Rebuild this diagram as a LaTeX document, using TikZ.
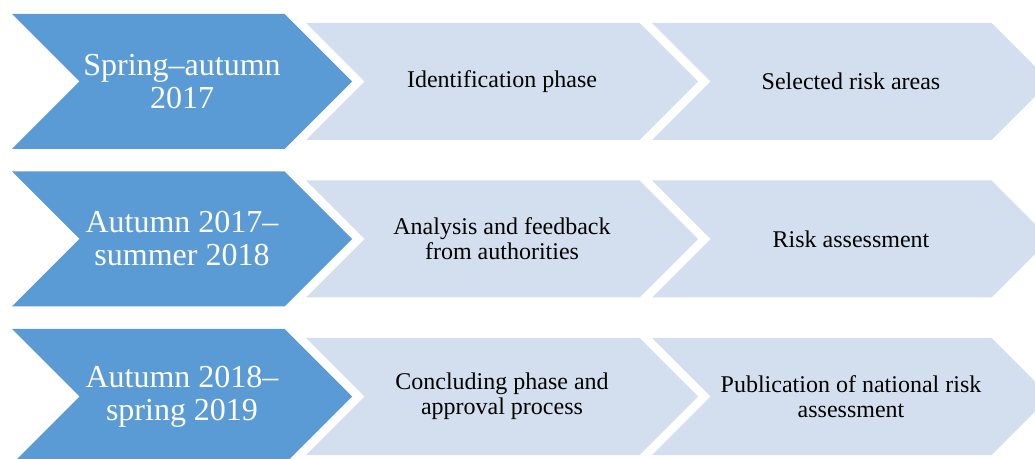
\documentclass[tikz,border=0pt]{standalone}
\usepackage{fontspec}
\setmainfont{Liberation Serif}
\definecolor{darkblue}{RGB}{91,155,213}
\definecolor{lightblue}{RGB}{211,223,238}
\newcommand{\chevronshape}[5]{% fill, x, y, w, h
  \fill[#1] (#2,#3) -- ({#2+#4-#5/2},#3) -- ({#2+#4},{#3+#5/2}) -- ({#2+#4-#5/2},{#3+#5}) -- (#2,{#3+#5}) -- ({#2+#5/2},{#3+#5/2}) -- cycle;}
\tikzset{
  periodtext/.style={text=white, align=center, inner sep=0pt, font=\fontsize{24}{24.75}\selectfont},
  steptext/.style={text=black, align=center, inner sep=0pt, font=\fontsize{18}{18.75}\selectfont}
}
\begin{document}
\begin{tikzpicture}[x=0.75pt,y=-0.75pt]
\useasboundingbox (0,0) rectangle (1035,459);
\clip (0,0) rectangle (1035,459);
% row 1
\chevronshape{darkblue}{12}{14}{340}{135}
\chevronshape{lightblue}{306}{23}{392}{117}
\chevronshape{lightblue}{652}{23}{398}{117}
\node[periodtext] (p1) at (182,81.5) {Spring--autumn\\2017};
\node[steptext] (a1) at (502,81.5) {Identification phase};
\node[steptext] (b1) at (851,81.5) {Selected risk areas};
% row 2
\chevronshape{darkblue}{12}{171.5}{340}{135}
\chevronshape{lightblue}{306}{180.5}{392}{117}
\chevronshape{lightblue}{652}{180.5}{398}{117}
\node[periodtext] (p2) at (182,239) {Autumn 2017--\\summer 2018};
\node[steptext] (a2) at (502,239) {Analysis and feedback\\from authorities};
\node[steptext] (b2) at (851,239) {Risk assessment};
% row 3
\chevronshape{darkblue}{12}{329}{340}{135}
\chevronshape{lightblue}{306}{338}{392}{117}
\chevronshape{lightblue}{652}{338}{398}{117}
\node[periodtext] (p3) at (182,396.5) {Autumn 2018--\\spring 2019};
\node[steptext] (a3) at (502,396.5) {Concluding phase and\\approval process};
\node[steptext] (b3) at (851,396.5) {Publication of national risk\\assessment};
\end{tikzpicture}
\end{document}
